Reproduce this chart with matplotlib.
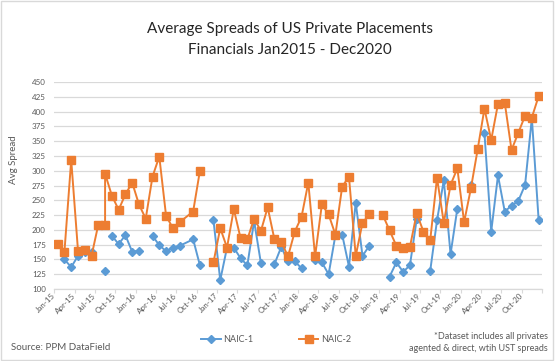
import numpy as np
import matplotlib.pyplot as plt
from matplotlib.lines import Line2D
from matplotlib.patches import Rectangle

plt.rcParams['font.family'] = ['Lato', 'DejaVu Sans']

# Daten: ein Eintrag pro Zeile der Quelltabelle (None = leere Zelle -> Lücke)
dates = ['2015-01', '2015-02', '2015-03', '2015-04', '2015-05', '2015-06',
         '2015-07', '2015-08', '2015-08', '2015-09', '2015-10', '2015-11',
         '2015-12', '2016-01', '2016-02', '2016-03', '2016-04', '2016-05',
         '2016-06', '2016-07', '2016-09', '2016-10', '2016-11', '2016-12',
         '2017-01', '2017-02', '2017-03', '2017-04', '2017-05', '2017-06',
         '2017-07', '2017-08', '2017-09', '2017-10', '2017-11', '2017-12',
         '2018-01', '2018-02', '2018-03', '2018-04', '2018-05', '2018-06',
         '2018-07', '2018-08', '2018-09', '2018-10', '2018-11', '2018-12',
         '2019-01', '2019-02', '2019-03', '2019-04', '2019-05', '2019-06',
         '2019-07', '2019-08', '2019-09', '2019-10', '2019-11', '2019-12',
         '2020-01', '2020-02', '2020-03', '2020-04', '2020-05', '2020-06',
         '2020-07', '2020-08', '2020-09', '2020-10', '2020-11', '2020-12']

naic1 = [None, 150, 137, 156, 162, 163,
         None, 130, None, 190, 176, 191,
         163, 165, None, 190, 174, 164,
         170, 173, 184, 140, None, 216,
         115, 170, 170, 152, 140, 215,
         144, None, 142, 171, 147, 147,
         135, None, 149, 145, 125, 191,
         192, 138, 246, 156, 173, None,
         None, 121, 145, 129, 140, 218,
         None, 131, 216, 284, 159, 236,
         None, 276, None, 364, 197, 292,
         231, 241, 249, 276, 389, 217]

naic2 = [176, 163, 318, 165, 166, 156,
         209, 209, 295, 258, 234, 260,
         280, 243, 219, 290, 324, 224,
         203, 213, 231, 300, None, 145,
         203, 170, 235, 186, 184, 219,
         198, 238, 184, 180, 155, 197,
         222, 280, 155, 243, 226, 192,
         273, 290, 156, 212, 226, None,
         225, 199, 173, 170, 171, 228,
         197, 183, 288, 212, 276, 304,
         213, 270, 336, 405, 352, 413,
         415, 335, 364, 393, 390, 426]

tick_labels = ['Jan-15', 'Apr-15', 'Jul-15', 'Oct-15', 'Jan-16', 'Apr-16',
               'Jul-16', 'Oct-16', 'Jan-17', 'Apr-17', 'Jul-17', 'Oct-17',
               'Jan-18', 'Apr-18', 'Jul-18', 'Oct-18', 'Jan-19', 'Apr-19',
               'Jul-19', 'Oct-19', 'Jan-20', 'Apr-20', 'Jul-20', 'Oct-20']

# Monatsposition (Mitte des Monats) auf der Datumsachse
x = np.array([(int(d[:4]) - 2015) * 12 + int(d[5:]) - 1 + 0.5 for d in dates])
y1 = np.array([np.nan if v is None else v for v in naic1], dtype=float)
y2 = np.array([np.nan if v is None else v for v in naic2], dtype=float)

blue = '#5B9BD5'
orange = '#ED7D31'
grey = '#595959'

fig = plt.figure(figsize=(5.55, 3.61), dpi=100)
ax = fig.add_axes([0.0978, 0.1994, 0.8788, 0.5734])

ax.plot(x, y1, color=blue, lw=1.4, marker='D', ms=3.6, mec=blue, mfc=blue)
ax.plot(x, y2, color=orange, lw=1.4, marker='s', ms=5.2, mec=orange, mfc=orange)

# Achsen
ax.set_xlim(0, 72)
ax.set_ylim(100, 450)
ax.set_yticks(np.arange(100, 451, 25))
ax.grid(axis='y', color='#d9d9d9', lw=0.9)
ax.set_axisbelow(True)
for s in ['top', 'right', 'left']:
    ax.spines[s].set_visible(False)
ax.spines['bottom'].set_color('#d9d9d9')
ax.spines['bottom'].set_linewidth(0.9)

ax.set_xticks(np.arange(0, 73, 3))
ax.set_xticklabels(tick_labels + [''])
ax.tick_params(axis='x', length=3, color='#d9d9d9', labelsize=5.8, labelcolor=grey, pad=1)
ax.tick_params(axis='y', length=0, labelsize=5.8, labelcolor=grey, pad=6)
for lab in ax.get_xticklabels():
    lab.set_rotation(45)
    lab.set_ha('right')
    lab.set_rotation_mode('anchor')
    lab.set_va('center')

# Titel und Texte
fig.text(0.523, 1 - 29 / 361, 'Average Spreads of US Private Placements',
         ha='center', va='center', fontsize=11, color='#262626')
fig.text(0.523, 1 - 50 / 361, 'Financials Jan2015 - Dec2020',
         ha='center', va='center', fontsize=11, color='#262626')
fig.text(13 / 555, 1 - 160 / 361, 'Avg Spread', rotation=90,
         ha='center', va='center', fontsize=7, color=grey)
fig.text(11 / 555, 1 - 348 / 361, 'Source: PPM DataField',
         ha='left', va='center', fontsize=7, color=grey)
fig.text(548 / 555, 1 - 342.5 / 361,
         '*Dataset includes all privates\nagented & direct, wtih UST spreads',
         ha='right', va='center', fontsize=6.5, color=grey, linespacing=1.35,
         multialignment='right')

# Legende
handles = [Line2D([], [], color=blue, lw=1.4, marker='D', ms=3.6),
           Line2D([], [], color=orange, lw=1.4, marker='s', ms=5.2)]
fig.legend(handles, ['NAIC-1', 'NAIC-2'], loc='center', ncol=2,
           bbox_to_anchor=(276 / 555, 1 - 340 / 361), frameon=False,
           fontsize=6.5, labelcolor=grey, handlelength=2.2,
           handletextpad=0.3, columnspacing=5.0)

# Rahmen um das Diagramm
fig.add_artist(Rectangle((0.002, 0.003), 0.995, 0.994, transform=fig.transFigure,
                         fill=False, edgecolor='#d9d9d9', lw=1))

fig.savefig('out.png', dpi=100)
